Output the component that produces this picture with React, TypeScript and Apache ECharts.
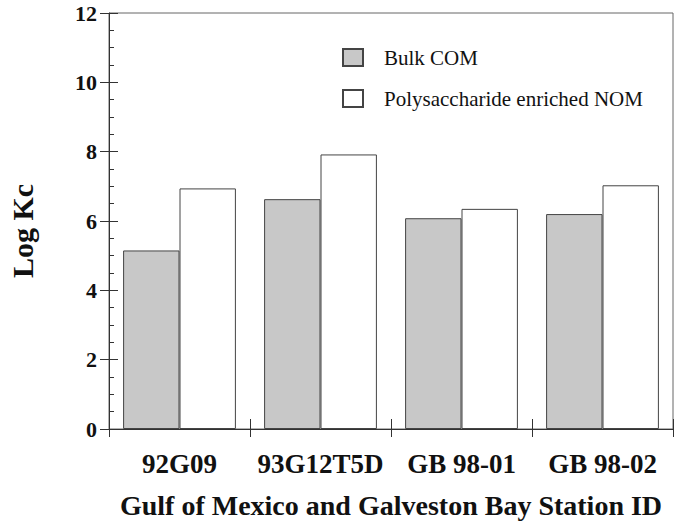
import React, { useEffect, useRef } from "react";
import * as echarts from "echarts";

const categories = ["92G09", "93G12T5D", "GB 98-01", "GB 98-02"];
const bulkCOM = [5.15, 6.63, 6.08, 6.2];
const polyNOM = [6.94, 7.92, 6.35, 7.03];
const seriesNames = ["Bulk COM", "Polysaccharide enriched NOM"];
const yTitle = "Log Kc";
const xTitle = "Gulf of Mexico and Galveston Bay Station ID";

const FONT = "Liberation Serif";

export default function App() {
  const ref = useRef<HTMLDivElement>(null);
  useEffect(() => {
    if (!ref.current) return;
    const chart = echarts.init(ref.current, null, { renderer: "svg" });
    const axisColor = "#333";
    chart.setOption({
      animation: false,
      backgroundColor: "#fff",
      textStyle: { fontFamily: FONT },
      grid: {
        left: 109,
        right: 2,
        top: 13,
        bottom: 91,
        show: true,
        borderColor: "#666",
        borderWidth: 1,
      },
      legend: {
        orient: "vertical",
        left: 337,
        top: 42,
        itemWidth: 20,
        itemHeight: 17,
        itemGap: 20,
        icon: "rect",
        textStyle: {
          fontFamily: FONT,
          fontSize: 21,
          lineHeight: 21,
          color: "#111",
          padding: [0, 0, 0, 16],
        },
        data: seriesNames,
      },
      xAxis: [
        {
          type: "category",
          data: categories,
          position: "bottom",
          axisLine: { show: true, lineStyle: { color: axisColor, width: 1 } },
          axisTick: { show: true, inside: false, length: 8, lineStyle: { color: axisColor } },
          axisLabel: {
            interval: 0,
            hideOverlap: false,
            fontFamily: FONT,
            fontWeight: "bold",
            fontSize: 27,
            color: "#111",
            margin: 21,
          },
          name: xTitle,
          nameLocation: "middle",
          nameGap: 62,
          nameTextStyle: { fontFamily: FONT, fontWeight: "bold", fontSize: 28, color: "#111" },
        },
        {
          type: "value",
          min: 0,
          max: categories.length,
          interval: 1,
          position: "bottom",
          axisLine: { show: false },
          axisLabel: { show: false },
          splitLine: { show: false },
          axisTick: { show: true, inside: true, length: 10, lineStyle: { color: axisColor } },
          minorTick: { show: true, splitNumber: 5, length: 6, lineStyle: { color: axisColor } },
        },
      ],
      yAxis: [
        {
          type: "value",
          min: 0,
          max: 12,
          interval: 2,
          position: "left",
          axisLine: { show: true, lineStyle: { color: axisColor, width: 1 } },
          axisTick: { show: true, inside: false, length: 9, lineStyle: { color: axisColor } },
          axisLabel: {
            fontFamily: FONT,
            fontWeight: "bold",
            fontSize: 22,
            color: "#111",
            margin: 12,
          },
          splitLine: { show: false },
        },
        {
          type: "value",
          min: 0,
          max: 12,
          interval: 2,
          position: "left",
          axisLine: { show: false },
          axisLabel: { show: false },
          splitLine: { show: false },
          axisTick: { show: true, inside: true, length: 9, lineStyle: { color: axisColor } },
          minorTick: { show: true, splitNumber: 4, length: 5, lineStyle: { color: axisColor } },
        },
      ],
      graphic: [
        {
          type: "text",
          x: 22,
          y: 231,
          rotation: Math.PI / 2,
          style: {
            text: yTitle,
            fontFamily: FONT,
            fontWeight: "bold",
            fontSize: 30,
            fill: "#111",
            textAlign: "center",
            textVerticalAlign: "middle",
          },
        },
      ],
      series: [
        {
          name: seriesNames[0],
          type: "bar",
          data: bulkCOM,
          barGap: "0%",
          barCategoryGap: "20%",
          itemStyle: { color: "#c8c8c8", borderColor: "#444", borderWidth: 1 },
        },
        {
          name: seriesNames[1],
          type: "bar",
          data: polyNOM,
          itemStyle: { color: "#ffffff", borderColor: "#444", borderWidth: 1 },
        },
      ],
    });
    return () => chart.dispose();
  }, []);
  return (
    <div
      ref={ref}
      style={{ position: "fixed", left: 0, top: 0, width: 675, height: 524, background: "#fff" }}
    />
  );
}
